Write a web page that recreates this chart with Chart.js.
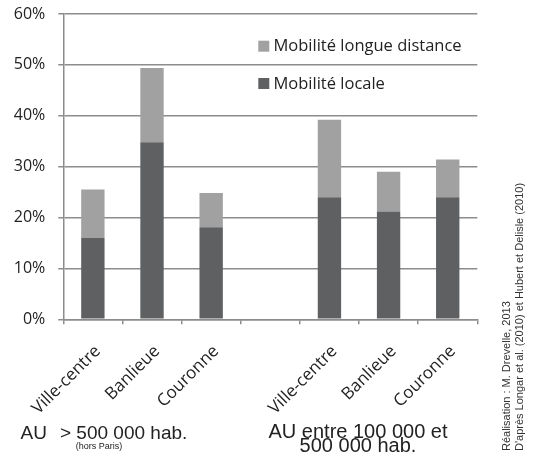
<!DOCTYPE html>
<html><head><meta charset="utf-8">
<script src="https://cdn.jsdelivr.net/npm/chart.js@4/dist/chart.umd.min.js"></script>
<style>html,body{margin:0;padding:0;background:#fff;overflow:hidden}</style>
</head><body>
<div style="width:536px;height:457px;position:relative">
<canvas id="c" width="536" height="457" style="display:block;width:536px;height:457px"></canvas>
</div>
<script>
// ---- data ----
const categories = ['Ville-centre', 'Banlieue', 'Couronne', '', 'Ville-centre', 'Banlieue', 'Couronne'];
const mobiliteLocale = [16.0, 34.8, 18.1, null, 24.0, 21.2, 24.0];
const mobiliteLongue = [9.5, 14.6, 6.7, null, 15.2, 7.8, 7.4];
const seriesNames = ['Mobilité locale', 'Mobilité longue distance'];
const yTickValues = [0, 10, 20, 30, 40, 50, 60];
const groupLabel1 = ['AU', '> 500 000 hab.', '(hors Paris)'];
const groupLabel2 = ['AU entre 100 000 et', '500 000 hab.'];
const credits = ['Réalisation : M. Drevelle, 2013', "D'après Longar et al. (2010) et Hubert et Delisle (2010)"];

const DARK = '#5f6062';
const LIGHT = '#a1a1a2';
const GRID = '#8c8c8c';
const TXT = '#222222';

const extras = {
  id: 'extras',
  afterDraw(chart) {
    const ctx = chart.ctx;
    ctx.save();
    // legend (inside plot)
    const ds = chart.data.datasets;
    const rows = [ds[1], ds[0]];
    const ys = [46.2, 83.5];
    rows.forEach((d, i) => {
      ctx.fillStyle = d.backgroundColor;
      ctx.fillRect(258.3, ys[i] - 5.5, 11, 11);
      ctx.fillStyle = TXT;
      ctx.font = '16.5px "Open Sans"';
      ctx.textBaseline = 'middle';
      ctx.textAlign = 'left';
      ctx.fillText(d.label, 273.5, ys[i] + 0.5);
    });
    // group labels
    ctx.fillStyle = TXT;
    ctx.textBaseline = 'alphabetic';
    ctx.font = '19px "Liberation Sans", Arial, sans-serif';
    ctx.textAlign = 'left';
    ctx.fillText(groupLabel1[0], 20.5, 439);
    ctx.fillText(groupLabel1[1], 60, 439);
    ctx.font = '9px "Liberation Sans", Arial, sans-serif';
    ctx.textAlign = 'center';
    ctx.fillText(groupLabel1[2], 99, 449);
    ctx.font = '20px "Liberation Sans", Arial, sans-serif';
    ctx.fillText(groupLabel2[0], 358, 438);
    ctx.fillText(groupLabel2[1], 358, 452);
    // credits (vertical)
    ctx.font = '11px "Liberation Sans", Arial, sans-serif';
    ctx.fillStyle = '#333';
    ctx.textAlign = 'left';
    ctx.textBaseline = 'middle';
    const xs = [507, 520];
    credits.forEach((t, i) => {
      ctx.save();
      ctx.translate(xs[i], 451);
      ctx.rotate(-Math.PI / 2);
      ctx.fillText(t, 0, 0);
      ctx.restore();
    });
    ctx.restore();
  }
};

new Chart(document.getElementById('c'), {
  type: 'bar',
  data: {
    labels: categories,
    datasets: [
      { label: seriesNames[0], data: mobiliteLocale, backgroundColor: DARK, borderWidth: 0 },
      { label: seriesNames[1], data: mobiliteLongue, backgroundColor: LIGHT, borderWidth: 0 }
    ]
  },
  options: {
    responsive: false,
    animation: false,
    devicePixelRatio: 1,
    layout: { autoPadding: false, padding: { left: 0, right: 58.7, top: 14, bottom: 0 } },
    plugins: { legend: { display: false }, tooltip: { enabled: false } },
    datasets: { bar: { categoryPercentage: 1, barPercentage: 0.395 } },
    scales: {
      x: {
        stacked: true,
        grid: { drawOnChartArea: false, drawTicks: true, tickLength: 5, color: GRID, lineWidth: 1.5, offset: true },
        border: { display: true, color: GRID, width: 1.5 },
        ticks: { maxRotation: 45, minRotation: 45, autoSkip: false, padding: 17, labelOffset: 5, color: TXT, font: { family: 'Open Sans', size: 17 } },
        afterFit(scale) { scale.height = 137.7; scale.paddingTop = 0; scale.paddingBottom = 0; }
      },
      y: {
        stacked: true,
        min: 0, max: 60,
        afterBuildTicks(scale) { scale.ticks = yTickValues.map(v => ({ value: v })); },
        grid: { color: GRID, lineWidth: 1.5, tickLength: 5 },
        border: { display: true, color: GRID, width: 1.5 },
        ticks: { padding: 13, color: TXT, font: { family: 'Open Sans', size: 16 }, callback: v => v + '%' },
        afterFit(scale) { scale.width = 63.3; scale.paddingTop = 0; scale.paddingBottom = 0; }
      }
    }
  },
  plugins: [extras]
});
</script>
</body></html>
